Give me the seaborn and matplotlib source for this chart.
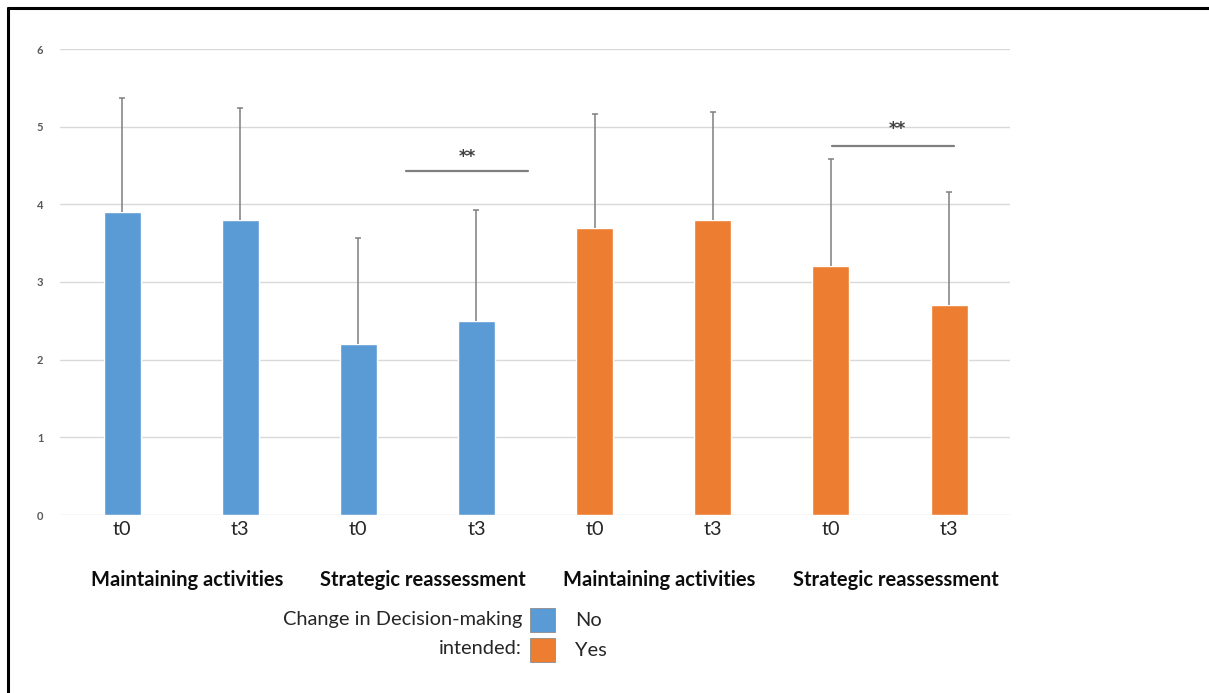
import matplotlib
matplotlib.use("Agg")
import matplotlib.pyplot as plt
from matplotlib.lines import Line2D
from matplotlib.patches import Rectangle
from matplotlib.transforms import blended_transform_factory
import numpy as np
import pandas as pd
import seaborn as sns

# Data: mean scores and standard deviations per measurement point
time_labels = ["t0", "t3", "t0", "t3", "t0", "t3", "t0", "t3"]
activity_labels = ["Maintaining activities", "Strategic reassessment",
                   "Maintaining activities", "Strategic reassessment"]
intended = ["No", "No", "No", "No", "Yes", "Yes", "Yes", "Yes"]
means = [3.9, 3.8, 2.2, 2.5, 3.7, 3.8, 3.2, 2.7]
sds = [1.47, 1.44, 1.37, 1.43, 1.46, 1.39, 1.38, 1.46]
# significance brackets: (line start, line end, height, star x, star y)
sig_marks = [(2.40, 3.44, 4.43, 2.92, 4.61), (6.01, 7.04, 4.75, 6.56, 4.97)]
sig_text = "**"
y_ticks = [0, 1, 2, 3, 4, 5, 6]

colors = {"No": "#5B9BD5", "Yes": "#ED7D31"}
font = "Lato"

sns.set_theme(style="white")
plt.rcParams["font.family"] = [font, "DejaVu Sans"]

df = pd.DataFrame({
    "slot": list(range(len(means))),
    "mean": means,
    "sd": sds,
    "intended": intended,
})

fig = plt.figure(figsize=(12.09, 6.93), dpi=100)
ax = fig.add_axes([60 / 1209, 1 - 515 / 693, 950 / 1209, 466 / 693])

sns.barplot(data=df, x="slot", y="mean", hue="intended", palette=colors,
            dodge=False, width=0.313, errorbar=None, legend=False,
            saturation=1, ax=ax, zorder=3)

# upper error bars only
eb = ax.errorbar(df["slot"], df["mean"], yerr=[np.zeros(len(sds)), df["sd"]],
                 fmt="none", ecolor="#7F7F7F", elinewidth=1.1, capsize=2.5,
                 capthick=1.1, zorder=4)
eb[1][0].set_visible(False)

ax.set_xlim(-0.525, 7.516)
ax.set_ylim(0, 6)
ax.set_yticks(y_ticks)
ax.set_yticklabels([str(t) for t in y_ticks], fontsize=8, fontweight="bold",
                   color="#595959")
ax.set_xticks(range(len(time_labels)))
ax.set_xticklabels(time_labels, fontsize=14.3, color="#262626")
ax.tick_params(axis="x", length=0, pad=4)
ax.tick_params(axis="y", length=0, pad=12)
ax.set_xlabel("")
ax.set_ylabel("")
for s in ax.spines.values():
    s.set_visible(False)
ax.yaxis.grid(True, color="#D9D9D9", lw=1, zorder=0)
ax.set_axisbelow(True)

# significance markers
for x0, x1, h, sx, sy in sig_marks:
    ax.plot([x0, x1], [h, h], color="#7F7F7F", lw=1.6, zorder=5)
    ax.text(sx, sy, sig_text, ha="center", va="center", fontsize=12,
            fontweight="bold", color="#404040", family="DejaVu Sans")

# activity labels beneath each t0/t3 pair
tr = blended_transform_factory(ax.transData, fig.transFigure)
for i, lab in enumerate(activity_labels):
    ax.text(2 * i + 0.55, 1 - 580 / 693, lab, transform=tr, ha="center",
            va="center", fontsize=14.5, fontweight="bold", color="#0D0D0D")

# legend
fig.text(522 / 1209, 1 - 620 / 693, "Change in Decision-making", ha="right",
         va="center", fontsize=14.4, color="#262626")
fig.text(522 / 1209, 1 - 649 / 693, "intended:", ha="right", va="center",
         fontsize=14.4, color="#262626")
for lab, yc in [("No", 620), ("Yes", 650)]:
    fig.patches.append(Rectangle((530 / 1209, 1 - (yc + 12) / 693), 25 / 1209,
                                 24 / 693, transform=fig.transFigure,
                                 facecolor=colors[lab], edgecolor="#8C8C8C",
                                 lw=0.6))
    fig.text(575 / 1209, 1 - yc / 693, lab, ha="left", va="center",
             fontsize=14.4, color="#262626")

# outer frame (top and left edges)
fig.add_artist(Line2D([7.5 / 1209, 1], [1 - 7.5 / 693, 1 - 7.5 / 693],
                      transform=fig.transFigure, color="black", lw=2.2))
fig.add_artist(Line2D([7.5 / 1209, 7.5 / 1209], [0, 1 - 7.5 / 693],
                      transform=fig.transFigure, color="black", lw=2.2))

fig.savefig("out.png", dpi=100, facecolor="white")
